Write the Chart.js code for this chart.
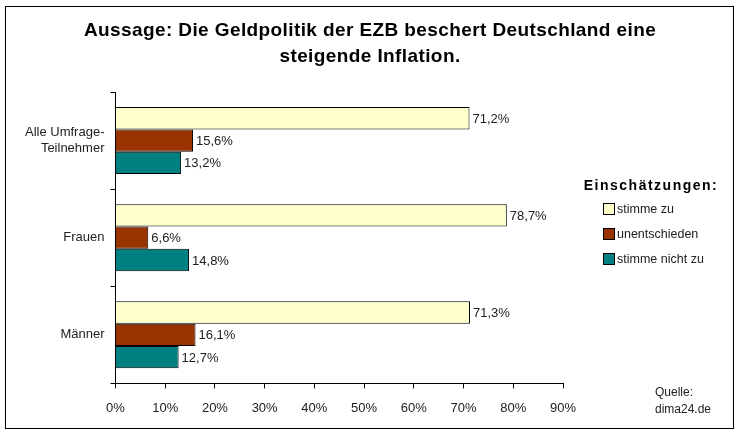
<!DOCTYPE html>
<html>
<head>
<meta charset="utf-8">
<script src="https://cdn.jsdelivr.net/npm/chart.js@4.4.0/dist/chart.umd.min.js"></script>
<style>
  body { margin: 0; background: #fff; }
  #wrap { position: relative; width: 740px; height: 437px; }
</style>
</head>
<body>
<div id="wrap"><canvas id="chart"></canvas></div>
<script>
const titleLines = ['Aussage: Die Geldpolitik der EZB beschert Deutschland eine', 'steigende Inflation.'];
const categories = [['Alle Umfrage-', 'Teilnehmer'], 'Frauen', 'Männer'];
const stimmeZu = [71.2, 78.7, 71.3];
const unentschieden = [15.6, 6.6, 16.1];
const stimmeNichtZu = [13.2, 14.8, 12.7];
const seriesNames = ['stimme zu', 'unentschieden', 'stimme nicht zu'];
const seriesColors = ['#FFFFCC', '#993300', '#008080'];

const fontFam = '"Liberation Sans", Arial, sans-serif';

// Rahmen, Titel, Werte an den Balken, Legende und Quelle
const extras = {
    id: 'extras',
    beforeDraw(chart) {
        const c = chart.ctx;
        c.save();
        c.fillStyle = '#fff';
        c.fillRect(0, 0, chart.width, chart.height);
        c.strokeStyle = '#000';
        c.lineWidth = 1;
        c.strokeRect(5.5, 6.5, 728, 422);

        c.fillStyle = '#000';
        c.font = 'bold 19px ' + fontFam;
        c.letterSpacing = '0.4px';
        c.textAlign = 'center';
        c.textBaseline = 'middle';
        titleLines.forEach((t, i) => c.fillText(t, 370, 31 + i * 26));
        c.restore();
    },
    afterDatasetsDraw(chart) {
        const c = chart.ctx;
        c.save();
        c.font = '13px ' + fontFam;
        c.fillStyle = '#222';
        c.textBaseline = 'middle';
        chart.data.datasets.forEach((ds, i) => {
            chart.getDatasetMeta(i).data.forEach((bar, j) => {
                const txt = ds.data[j].toFixed(1).replace('.', ',') + '%';
                c.fillText(txt, bar.x + 3, bar.y + 1);
            });
        });

        // Legende
        c.fillStyle = '#000';
        c.font = 'bold 14px ' + fontFam;
        c.letterSpacing = '1.5px';
        c.textAlign = 'center';
        c.fillText('Einschätzungen:', 651, 186);
        c.letterSpacing = '0px';
        c.textAlign = 'left';
        c.font = '12.5px ' + fontFam;
        chart.data.datasets.forEach((ds, i) => {
            const y = 209 + i * 25;
            c.fillStyle = ds.backgroundColor;
            c.fillRect(603.5, y - 5.5, 11, 11);
            c.strokeStyle = '#000';
            c.lineWidth = 1;
            c.strokeRect(603.5, y - 5.5, 11, 11);
            c.fillStyle = '#222';
            c.fillText(ds.label, 617, y + 1);
        });

        c.font = '12px ' + fontFam;
        c.fillText('Quelle:', 655, 393);
        c.fillText('dima24.de', 655, 410);
        c.restore();
    }
};

const ctx = document.getElementById('chart').getContext('2d');
new Chart(ctx, {
    type: 'bar',
    data: {
        labels: categories,
        datasets: [
            {
                label: seriesNames[0],
                data: stimmeZu,
                backgroundColor: seriesColors[0],
                borderColor: '#000',
                borderWidth: 1
            },
            {
                label: seriesNames[1],
                data: unentschieden,
                backgroundColor: seriesColors[1],
                borderColor: '#000',
                borderWidth: 1
            },
            {
                label: seriesNames[2],
                data: stimmeNichtZu,
                backgroundColor: seriesColors[2],
                borderColor: '#000',
                borderWidth: 1
            }
        ]
    },
    options: {
        indexAxis: 'y',
        responsive: true,
        maintainAspectRatio: false,
        animation: false,
        categoryPercentage: 0.69,
        barPercentage: 1,
        layout: {
            padding: { left: 19, right: 177, top: 92, bottom: 9 }
        },
        scales: {
            x: {
                min: 0,
                max: 90,
                ticks: {
                    stepSize: 10,
                    color: '#222',
                    font: { family: fontFam, size: 13 },
                    padding: 12,
                    callback: v => v + '%'
                },
                grid: {
                    drawOnChartArea: false,
                    color: '#000',
                    tickLength: 5
                },
                border: { color: '#000' }
            },
            y: {
                ticks: {
                    color: '#222',
                    font: { family: fontFam, size: 13 },
                    padding: 6
                },
                grid: {
                    drawOnChartArea: false,
                    offset: true,
                    color: '#000',
                    tickLength: 5
                },
                border: { color: '#000' }
            }
        },
        plugins: {
            title: { display: false },
            legend: { display: false },
            tooltip: { enabled: false }
        }
    },
    plugins: [extras]
});
</script>
</body>
</html>
